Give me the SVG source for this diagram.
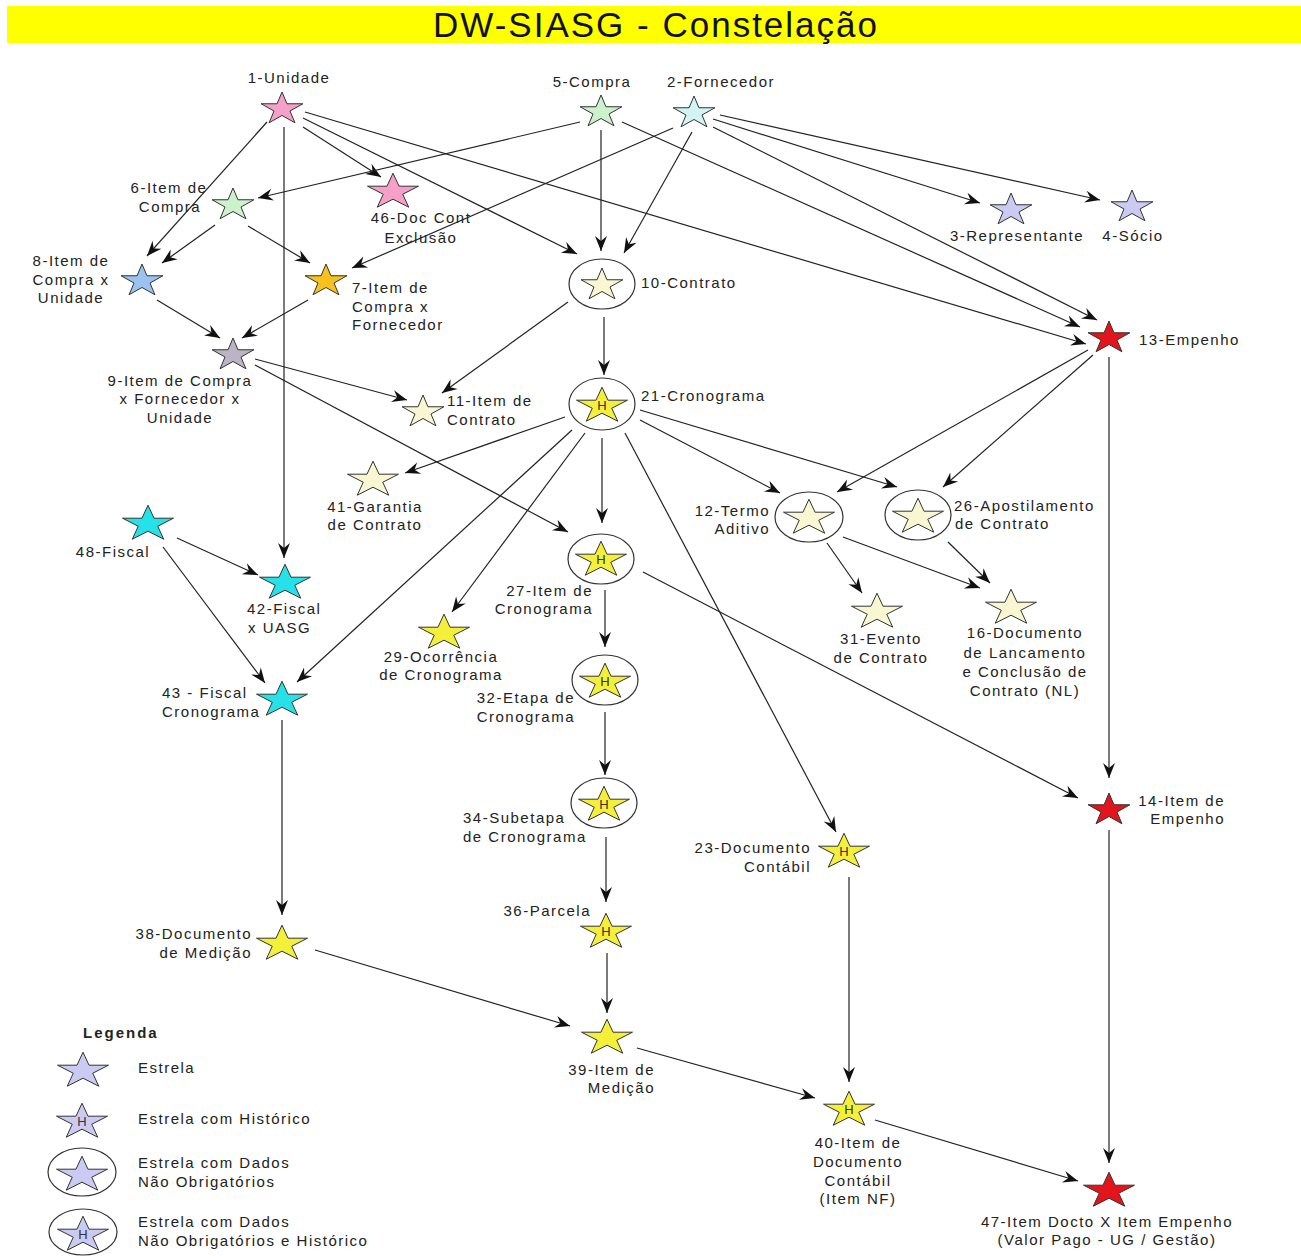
<svg xmlns="http://www.w3.org/2000/svg" xmlns:xlink="http://www.w3.org/1999/xlink" width="1301" height="1256" viewBox="0 0 1301 1256">
<style>
text{font-family:"Liberation Sans",Arial,sans-serif;font-size:15px;letter-spacing:1.5px;fill:#222}
.m{text-anchor:middle}
.e{text-anchor:end}
.title{font-size:35px;letter-spacing:2px;fill:#111}
.leg{font-weight:bold;letter-spacing:2px}
.h{font-size:13px;letter-spacing:0;text-anchor:middle;fill:#333}
.st{stroke:#333;stroke-width:1}
.ring{fill:#fff;stroke:#333;stroke-width:1.2}
#connectors line{stroke:#222;stroke-width:1.2;marker-end:url(#ah)}
</style>
<defs>
<marker id="ah" markerWidth="18" markerHeight="16" refX="16" refY="8" orient="auto" markerUnits="userSpaceOnUse">
<path d="M1,2 L16,8 L1,14 L6,8 Z" fill="#111"/>
</marker>
<path id="ss" d="M0,-17 L4.94,-5.25 L20.92,-5.25 L7.99,2.01 L12.93,13.75 L0,6.49 L-12.93,13.75 L-7.99,2.01 L-20.92,-5.25 L-4.94,-5.25 Z"/>
<path id="ls" d="M0,-18.8 L6.02,-5.81 L25.49,-5.81 L9.74,2.22 L15.75,15.21 L0,7.18 L-15.75,15.21 L-9.74,2.22 L-25.49,-5.81 L-6.02,-5.81 Z"/>
</defs>
<rect width="1301" height="1256" fill="#fff"/>
<g id="title">
<rect x="7" y="6" width="1294" height="37" fill="#ffff00"/>
<text class="title m" x="656" y="37">DW-SIASG - Constelação</text>
</g>
<g id="connectors">
<line x1="267" y1="122" x2="147" y2="256"/>
<line x1="284" y1="127" x2="284" y2="558"/>
<line x1="303" y1="127" x2="381" y2="177"/>
<line x1="303" y1="118" x2="577" y2="254"/>
<line x1="305" y1="112" x2="1086" y2="344"/>
<line x1="580" y1="122" x2="258" y2="198"/>
<line x1="601" y1="130" x2="601" y2="251"/>
<line x1="622" y1="122" x2="1080" y2="327"/>
<line x1="673" y1="128" x2="352" y2="268"/>
<line x1="692" y1="132" x2="624" y2="253"/>
<line x1="713" y1="119" x2="980" y2="203"/>
<line x1="720" y1="115" x2="1100" y2="200"/>
<line x1="713" y1="127" x2="1097" y2="320"/>
<line x1="215" y1="225" x2="162" y2="263"/>
<line x1="248" y1="226" x2="310" y2="263"/>
<line x1="157" y1="300" x2="220" y2="338"/>
<line x1="308" y1="300" x2="242" y2="338"/>
<line x1="255" y1="359" x2="407" y2="400"/>
<line x1="255" y1="365" x2="568" y2="532"/>
<line x1="568" y1="302" x2="442" y2="393"/>
<line x1="604" y1="317" x2="604" y2="375"/>
<line x1="565" y1="417" x2="405" y2="473"/>
<line x1="585" y1="433" x2="452" y2="612"/>
<line x1="572" y1="430" x2="297" y2="682"/>
<line x1="602" y1="438" x2="602" y2="523"/>
<line x1="625" y1="433" x2="836" y2="832"/>
<line x1="640" y1="420" x2="780" y2="493"/>
<line x1="640" y1="410" x2="897" y2="487"/>
<line x1="1088" y1="350" x2="837" y2="492"/>
<line x1="1093" y1="355" x2="943" y2="487"/>
<line x1="1109" y1="357" x2="1109" y2="778"/>
<line x1="827" y1="543" x2="862" y2="593"/>
<line x1="843" y1="537" x2="980" y2="588"/>
<line x1="948" y1="542" x2="990" y2="583"/>
<line x1="605" y1="590" x2="605" y2="647"/>
<line x1="643" y1="572" x2="1078" y2="798"/>
<line x1="605" y1="712" x2="605" y2="775"/>
<line x1="606" y1="837" x2="606" y2="902"/>
<line x1="607" y1="953" x2="607" y2="1013"/>
<line x1="315" y1="950" x2="570" y2="1026"/>
<line x1="637" y1="1048" x2="815" y2="1098"/>
<line x1="849" y1="877" x2="849" y2="1082"/>
<line x1="875" y1="1120" x2="1078" y2="1181"/>
<line x1="1109" y1="830" x2="1109" y2="1163"/>
<line x1="177" y1="538" x2="258" y2="575"/>
<line x1="163" y1="547" x2="265" y2="683"/>
<line x1="282" y1="720" x2="282" y2="915"/>
</g>
<g id="n1"><use href="#ss" x="282" y="109" fill="#f5a0c8" class="st"/><text class="m" x="289" y="83">1-Unidade</text></g>
<g id="n5"><use href="#ss" x="601" y="112" fill="#ccf2cc" class="st"/><text class="m" x="592" y="87">5-Compra</text></g>
<g id="n2"><use href="#ss" x="694" y="113" fill="#d2f4f4" class="st"/><text class="m" x="721" y="87">2-Fornecedor</text></g>
<g id="n6"><use href="#ss" x="233" y="205" fill="#ccf2cc" class="st"/><text class="m" x="169" y="193">6-Item de</text><text class="m" x="170" y="212">Compra</text></g>
<g id="n46"><use href="#ls" x="393" y="192" fill="#f5a0c8" class="st"/><text class="m" x="421" y="223">46-Doc Cont</text><text class="m" x="421" y="243">Exclusão</text></g>
<g id="n3"><use href="#ss" x="1011" y="210" fill="#cacaf2" class="st"/><text class="m" x="1017" y="241">3-Representante</text></g>
<g id="n4"><use href="#ss" x="1132" y="207" fill="#cacaf2" class="st"/><text class="m" x="1133" y="241">4-Sócio</text></g>
<g id="n8"><use href="#ss" x="142" y="281" fill="#9cc2f0" class="st"/><text class="m" x="71" y="266">8-Item de</text><text class="m" x="71" y="285">Compra x</text><text class="m" x="71" y="303">Unidade</text></g>
<g id="n7"><use href="#ss" x="326" y="281" fill="#f8c21e" class="st"/><text x="352" y="293">7-Item de</text><text x="352" y="312">Compra x</text><text x="352" y="330">Fornecedor</text></g>
<g id="n10"><ellipse cx="602" cy="284" rx="33" ry="25" class="ring"/><use href="#ss" x="602" y="285" fill="#f9f7d2" class="st"/><text x="641" y="288">10-Contrato</text></g>
<g id="n13"><use href="#ss" x="1109" y="338" fill="#e3141c" class="st"/><text x="1139" y="345">13-Empenho</text></g>
<g id="n9"><use href="#ss" x="233" y="355" fill="#bab4c4" class="st"/><text class="m" x="180" y="386">9-Item de Compra</text><text class="m" x="180" y="404">x Fornecedor x</text><text class="m" x="180" y="423">Unidade</text></g>
<g id="n11"><use href="#ss" x="423" y="412" fill="#f9f7d2" class="st"/><text x="447" y="406">11-Item de</text><text x="447" y="425">Contrato</text></g>
<g id="n21"><ellipse cx="602" cy="404" rx="33" ry="26" class="ring"/><use href="#ls" x="602" y="406" fill="#f4f03a" class="st"/><text class="h" x="602" y="410">H</text><text x="641" y="401">21-Cronograma</text></g>
<g id="n41"><use href="#ls" x="373" y="480" fill="#f9f7d2" class="st"/><text class="m" x="375" y="512">41-Garantia</text><text class="m" x="375" y="530">de Contrato</text></g>
<g id="n12"><ellipse cx="809" cy="517" rx="34" ry="25" class="ring"/><use href="#ls" x="809" y="518" fill="#f9f7d2" class="st"/><text class="e" x="770" y="516">12-Termo</text><text class="e" x="770" y="534">Aditivo</text></g>
<g id="n26"><ellipse cx="918" cy="515" rx="33" ry="25" class="ring"/><use href="#ls" x="918" y="517" fill="#f9f7d2" class="st"/><text x="954" y="511">26-Apostilamento</text><text x="955" y="529">de Contrato</text></g>
<g id="n48"><use href="#ls" x="148" y="524" fill="#26e2e8" class="st"/><text class="m" x="113" y="557">48-Fiscal</text></g>
<g id="n42"><use href="#ls" x="285" y="583" fill="#26e2e8" class="st"/><text x="247" y="614">42-Fiscal</text><text x="248" y="633">x UASG</text></g>
<g id="n27"><ellipse cx="601" cy="559" rx="33" ry="25" class="ring"/><use href="#ls" x="601" y="560" fill="#f4f03a" class="st"/><text class="h" x="601" y="564">H</text><text class="e" x="593" y="596">27-Item de</text><text class="e" x="593" y="614">Cronograma</text></g>
<g id="n31"><use href="#ls" x="877" y="612" fill="#f9f7d2" class="st"/><text class="m" x="881" y="644">31-Evento</text><text class="m" x="881" y="663">de Contrato</text></g>
<g id="n16"><use href="#ls" x="1011" y="608" fill="#f9f7d2" class="st"/><text class="m" x="1025" y="638">16-Documento</text><text class="m" x="1025" y="658">de Lancamento</text><text class="m" x="1025" y="677">e Conclusão de</text><text class="m" x="1025" y="696">Contrato (NL)</text></g>
<g id="n29"><use href="#ls" x="444" y="633" fill="#f4f03a" class="st"/><text class="m" x="441" y="662">29-Ocorrência</text><text class="m" x="441" y="680">de Cronograma</text></g>
<g id="n43"><use href="#ls" x="282" y="700" fill="#26e2e8" class="st"/><text x="162" y="698">43 - Fiscal</text><text x="162" y="717">Cronograma</text></g>
<g id="n32"><ellipse cx="605" cy="680" rx="33" ry="25" class="ring"/><use href="#ls" x="605" y="682" fill="#f4f03a" class="st"/><text class="h" x="605" y="686">H</text><text class="e" x="575" y="703">32-Etapa de</text><text class="e" x="575" y="722">Cronograma</text></g>
<g id="n34"><ellipse cx="604" cy="803" rx="33" ry="25" class="ring"/><use href="#ls" x="604" y="805" fill="#f4f03a" class="st"/><text class="h" x="604" y="809">H</text><text x="463" y="823">34-Subetapa</text><text x="463" y="842">de Cronograma</text></g>
<g id="n14"><use href="#ss" x="1109" y="810" fill="#e3141c" class="st"/><text class="e" x="1225" y="806">14-Item de</text><text class="e" x="1225" y="824">Empenho</text></g>
<g id="n23"><use href="#ls" x="844" y="852" fill="#f4f03a" class="st"/><text class="h" x="844" y="856">H</text><text class="e" x="811" y="853">23-Documento</text><text class="e" x="811" y="872">Contábil</text></g>
<g id="n36"><use href="#ls" x="606" y="932" fill="#f4f03a" class="st"/><text class="h" x="606" y="936">H</text><text class="e" x="591" y="916">36-Parcela</text></g>
<g id="n38"><use href="#ls" x="282" y="944" fill="#f4f03a" class="st"/><text class="e" x="252" y="939">38-Documento</text><text class="e" x="252" y="958">de Medição</text></g>
<g id="n39"><use href="#ls" x="607" y="1038" fill="#f4f03a" class="st"/><text class="e" x="655" y="1075">39-Item de</text><text class="e" x="655" y="1093">Medição</text></g>
<g id="n40"><use href="#ls" x="849" y="1110" fill="#f4f03a" class="st"/><text class="h" x="849" y="1114">H</text><text class="m" x="858" y="1148">40-Item de</text><text class="m" x="858" y="1167">Documento</text><text class="m" x="858" y="1186">Contábil</text><text class="m" x="858" y="1204">(Item NF)</text></g>
<g id="n47"><use href="#ls" x="1109" y="1191" fill="#e3141c" class="st"/><text class="m" x="1107" y="1227">47-Item Docto X Item Empenho</text><text class="m" x="1107" y="1245">(Valor Pago - UG / Gestão)</text></g>
<g id="legend">
<text class="leg" x="83" y="1038">Legenda</text>
<use href="#ls" x="83" y="1071" fill="#cacaf2" class="st"/>
<text x="138" y="1073">Estrela</text>
<use href="#ls" x="82" y="1122" fill="#cacaf2" class="st"/>
<text class="h" x="82" y="1126">H</text>
<text x="138" y="1124">Estrela com Histórico</text>
<ellipse cx="82" cy="1172" rx="34" ry="24" class="ring"/>
<use href="#ls" x="82" y="1175" fill="#cacaf2" class="st"/>
<text x="138" y="1168">Estrela com Dados</text>
<text x="138" y="1187">Não Obrigatórios</text>
<ellipse cx="83" cy="1232" rx="34" ry="23" class="ring"/>
<use href="#ls" x="83" y="1235" fill="#cacaf2" class="st"/>
<text class="h" x="83" y="1239">H</text>
<text x="138" y="1227">Estrela com Dados</text>
<text x="138" y="1246">Não Obrigatórios e Histórico</text>
</g>
</svg>
